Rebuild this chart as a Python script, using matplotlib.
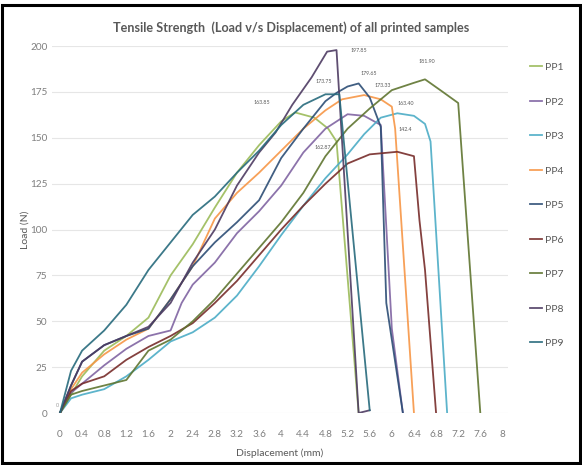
import matplotlib
matplotlib.use("Agg")
import matplotlib.pyplot as plt
from matplotlib.patches import Rectangle

# Series data (displacement in mm, load in N)
pp1_x = [0, 0.2, 0.4, 0.8, 1.2, 1.6, 2.0, 2.4, 2.8, 3.2, 3.6, 4.0, 4.25, 4.6, 4.85, 5.0, 5.4]
pp1_y = [0, 10, 20, 34, 42, 52, 75, 92, 112, 131, 146, 159, 163.85, 161, 155, 148, 0]

pp2_x = [0, 0.2, 0.4, 0.8, 1.2, 1.6, 2.0, 2.2, 2.4, 2.8, 3.2, 3.6, 4.0, 4.4, 4.8, 5.2, 5.5, 5.8, 6.0, 6.2]
pp2_y = [0, 11, 16, 26, 35, 42, 45, 60, 70, 82, 98, 110, 124, 142, 155, 162.87, 162, 157, 46, 0]

pp3_x = [0, 0.2, 0.4, 0.8, 1.2, 1.6, 2.0, 2.4, 2.8, 3.2, 3.6, 4.0, 4.4, 4.8, 5.2, 5.5, 5.8, 6.1, 6.4, 6.6, 6.7, 7.0]
pp3_y = [0, 8, 10, 13, 20, 29, 39, 44, 52, 64, 80, 97, 113, 128, 141, 152, 161, 163.40, 162, 157.6, 148, 0]

pp4_x = [0, 0.2, 0.4, 0.8, 1.2, 1.6, 2.0, 2.4, 2.8, 3.2, 3.6, 4.0, 4.4, 4.8, 5.1, 5.5, 5.8, 6.0, 6.06, 6.4]
pp4_y = [0, 13, 22, 32, 40, 46, 62, 80, 106, 120, 131, 143, 155, 165, 171, 173.33, 171, 167, 155, 0]

pp5_x = [0, 0.2, 0.4, 0.8, 1.2, 1.6, 2.0, 2.4, 2.8, 3.2, 3.6, 4.0, 4.4, 4.8, 5.0, 5.2, 5.4, 5.6, 5.8, 5.9, 6.2]
pp5_y = [0, 15, 28, 37, 42, 46, 62, 80, 93, 104, 116, 139, 155, 170, 174.5, 178, 179.65, 172, 156, 60, 0]

pp6_x = [0, 0.2, 0.4, 0.8, 1.2, 1.6, 2.0, 2.4, 2.8, 3.2, 3.6, 4.0, 4.4, 4.8, 5.2, 5.6, 6.1, 6.4, 6.5, 6.6, 6.8]
pp6_y = [0, 12, 16, 20, 29, 36, 42, 49, 60, 72, 86, 100, 113, 125, 136, 141, 142.4, 140, 105, 78, 0]

pp7_x = [0, 0.2, 0.4, 0.8, 1.2, 1.6, 2.0, 2.4, 2.8, 3.2, 3.6, 4.0, 4.4, 4.8, 5.2, 5.6, 6.0, 6.4, 6.6, 6.9, 7.2, 7.6]
pp7_y = [0, 10, 12, 15, 18, 34, 40, 50, 62, 76, 90, 104, 120, 140, 155, 166, 176, 180, 181.90, 175.5, 169, 0]

pp8_x = [0, 0.2, 0.4, 0.8, 1.2, 1.6, 2.0, 2.4, 2.8, 3.2, 3.6, 3.9, 4.2, 4.55, 4.83, 5.0, 5.4, 5.6]
pp8_y = [0, 15, 28, 37, 42, 47, 60, 82, 100, 124, 142, 153, 168, 183, 197, 197.85, 0, 1.5]

pp9_x = [0, 0.2, 0.4, 0.8, 1.2, 1.6, 2.0, 2.4, 2.8, 3.2, 3.6, 4.0, 4.4, 4.8, 5.05, 5.6]
pp9_y = [0, 23, 34, 45, 59, 78, 93, 108, 118, 131, 143, 157, 168, 173.75, 173.75, 1.5]

labels = ["PP1", "PP2", "PP3", "PP4", "PP5", "PP6", "PP7", "PP8", "PP9"]
colors = ["#9BBB59", "#8064A2", "#4BACC6", "#F79646", "#2C4D75",
          "#772C2A", "#5F7530", "#4D3B62", "#276A7C"]
series = [(pp1_x, pp1_y), (pp2_x, pp2_y), (pp3_x, pp3_y), (pp4_x, pp4_y), (pp5_x, pp5_y),
          (pp6_x, pp6_y), (pp7_x, pp7_y), (pp8_x, pp8_y), (pp9_x, pp9_y)]

# peak labels: value, offset of text in points
peak_text = ["163.85", "162.87", "163.40", "173.33", "179.65", "142.4", "181.90", "197.85", "173.75"]
peak_offset = [(-24, 7), (-18, -24), (6, 7), (13, 7), (7, 7), (6, 16), (1.5, 13), (16, 0), (-1, 9)]

xticks = [round(0.4 * i, 1) for i in range(21)]
yticks = [0, 25, 50, 75, 100, 125, 150, 175, 200]

plt.rcParams["font.family"] = ["Lato", "DejaVu Sans"]
grey = "#7F7F7F"

fig = plt.figure(figsize=(5.82, 4.65), dpi=100)
ax = fig.add_axes([0.0888, 0.1118, 0.784, 0.789])

for (xs, ys), lab, col, txt, off in zip(series, labels, colors, peak_text, peak_offset):
    ax.plot(xs, ys, color=col, lw=1.3, label=lab, alpha=0.9)
    i = ys.index(max(ys))
    ax.annotate(txt, (xs[i], ys[i]), xytext=off, textcoords="offset points",
                fontsize=3.8, color="#595959", ha="center", va="center")

ax.text(-0.05, 4, "0", fontsize=4, color="#a0a0a0", ha="center", va="center")

ax.set_xlim(-0.15, 8.1)
ax.set_ylim(0, 200)
ax.set_xticks(xticks)
ax.set_xticklabels([f"{v:g}" for v in xticks])
ax.set_yticks(yticks)
ax.tick_params(length=0, labelsize=7.2, colors=grey, pad=12)
ax.tick_params(axis="y", pad=3)
ax.grid(axis="y", color="#E6E6E6", lw=0.8)
for s in ax.spines.values():
    s.set_visible(False)
ax.set_axisbelow(True)

ax.set_xlabel("Displacement (mm)", fontsize=7.5, color="#595959", labelpad=7)
ax.set_ylabel("Load (N)", fontsize=7.5, color="#595959", labelpad=0)
fig.text(0.5, 0.94, "Tensile Strength  (Load v/s Displacement) of all printed samples",
         fontsize=9.1, fontweight="bold", color="#595959", ha="center", va="center")

fig.legend(loc="upper left", bbox_to_anchor=(0.895, 0.885), frameon=False,
           fontsize=7.5, handlelength=1.1, handletextpad=0.3, labelspacing=2.42,
           labelcolor="#595959")

fig.patches.append(Rectangle((0.004, 0.005), 0.992, 0.985, transform=fig.transFigure,
                             fill=False, edgecolor="black", lw=2.2))

fig.savefig("out.png", dpi=100)
